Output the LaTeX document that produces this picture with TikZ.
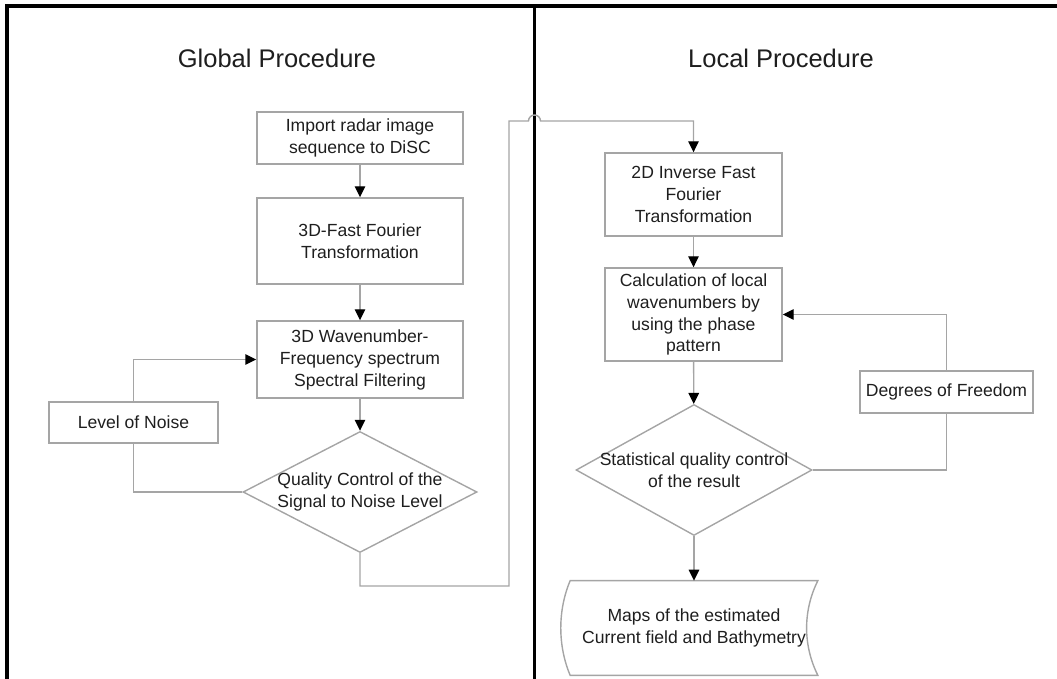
\documentclass[tikz,border=0pt]{standalone}
\usepackage{fontspec}
\setmainfont{Liberation Sans}
\usetikzlibrary{arrows.meta,positioning,shapes.geometric,calc}
\definecolor{linegray}{RGB}{165,165,165}
\definecolor{inkgray}{RGB}{30,30,30}

\begin{document}
\begin{tikzpicture}[
  >={Triangle[length=2.2mm,width=2.1mm,color=black]},
  font=\fontsize{10pt}{12.5pt}\selectfont, text=inkgray,
  box/.style={draw=linegray, line width=0.8pt, align=center, inner sep=2pt},
  diam/.style={draw=linegray, line width=0.8pt, diamond, inner sep=0pt},
  dtext/.style={align=center, text=inkgray, inner sep=0pt},
  flow/.style={draw=linegray, line width=0.8pt, ->},
  link/.style={draw=linegray, line width=0.8pt},
  frame/.style={draw=black, line width=1.8pt},
  ttl/.style={font=\fontsize{14.5pt}{17pt}\selectfont},
]
  \useasboundingbox (0,0) rectangle (21.14,-13.58);

  % page frame and the split between both halves
  \draw[frame] (0.14,-13.58) -- (0.14,-0.12) -- (21.14,-0.12);
  \draw[frame] (10.69,-0.12) -- (10.69,-13.58);

  \node[ttl] (gtitle) at (5.54,-1.16) {Global Procedure};
  \node[ttl] (ltitle) at (15.62,-1.16) {Local Procedure};

  % global side
  \node[box, minimum width=4.12cm, minimum height=1.04cm] (imp) at (7.2,-2.76)
    {Import radar image\\sequence to DiSC};
  \node[box, minimum width=4.12cm, minimum height=1.72cm] (fft) at (7.2,-4.82)
    {3D-Fast Fourier\\Transformation};
  \node[box, minimum width=4.12cm, minimum height=1.54cm] (wfs) at (7.2,-7.19)
    {3D Wavenumber-\\Frequency spectrum\\Spectral Filtering};
  \node[box, minimum width=3.38cm, minimum height=0.82cm] (noise) at (2.67,-8.45)
    {Level of Noise};
  \node[diam, minimum width=4.68cm, minimum height=2.42cm,
        label={[dtext]center:Quality Control of the\\Signal to Noise Level}]
    (gdiam) at (7.2,-9.84) {};

  % local side
  \node[box, minimum width=3.54cm, minimum height=1.66cm] (ifft) at (13.87,-3.89)
    {2D Inverse Fast\\Fourier\\Transformation};
  \node[box, minimum width=3.54cm, minimum height=1.86cm] (calc) at (13.87,-6.29)
    {Calculation of local\\wavenumbers by\\using the phase\\pattern};
  \node[box, minimum width=3.46cm, minimum height=0.84cm] (dof) at (18.93,-7.84)
    {Degrees of Freedom};
  \node[diam, minimum width=4.72cm, minimum height=2.62cm,
        label={[dtext]center:Statistical quality control\\of the result}]
    (ldiam) at (13.88,-9.4) {};
  \node[align=center, minimum width=4.94cm, minimum height=1.88cm] (maps)
    at (13.88,-12.56) {Maps of the estimated\\Current field and Bathymetry};
  \draw[link] (maps.north west) -- (maps.north east)
    .. controls +(-0.3,-0.6) and +(-0.3,0.6) .. (maps.south east)
    -- (maps.south west)
    .. controls +(-0.25,0.6) and +(-0.25,-0.6) .. (maps.north west) -- cycle;

  \draw[flow] (imp) -- (fft);
  \draw[flow] (fft) -- (wfs);
  \draw[flow] (wfs) -- (gdiam);
  \draw[link] (gdiam.west) -| (noise.south);
  \draw[flow] (noise.north) |- (wfs.west);

  % hand-over from the global to the local side, hopping the split
  \coordinate (lowbend) at (10.18,-11.72);
  \coordinate (topbend) at (10.18,-2.42);
  \draw[flow] (gdiam.south) |- (lowbend) -- (topbend) -- ++(0.39,0)
    arc[start angle=180, end angle=0, radius=0.12cm] -| (ifft.north);

  \draw[flow] (ifft) -- (calc);
  \draw[flow] (calc) -- (ldiam);
  \draw[flow] (ldiam) -- (maps);
  \draw[link] (ldiam.east) -| (dof.south);
  \draw[flow] (dof.north) |- (calc.east);
\end{tikzpicture}
\end{document}
